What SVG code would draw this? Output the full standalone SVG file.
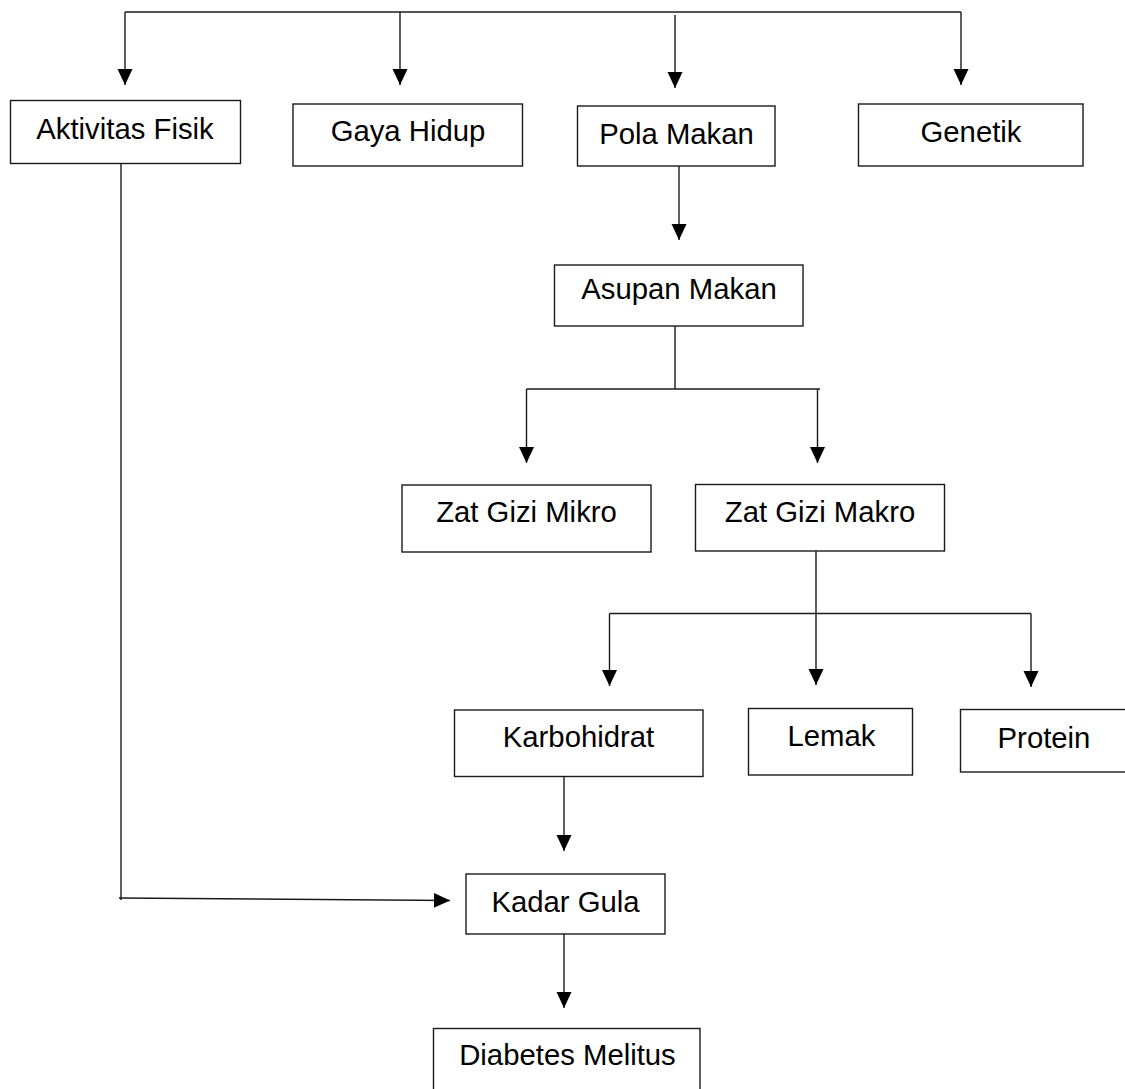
<svg xmlns="http://www.w3.org/2000/svg" width="1125" height="1089" viewBox="0 0 1125 1089">
<style>
  .box { fill: #ffffff; stroke: #1a1a1a; stroke-width: 1.4; }
  .lbl { font-family: "Liberation Sans", Arial, sans-serif; font-size: 29.3px; fill: #000000; text-anchor: middle; }
  .ln { fill: none; stroke: #1a1a1a; stroke-width: 1.4; }
  .arr { fill: none; stroke: #1a1a1a; stroke-width: 1.4; marker-end: url(#ah); }
</style>
<defs>
  <marker id="ah" markerUnits="userSpaceOnUse" markerWidth="17" markerHeight="16" viewBox="0 0 17 16" refX="16" refY="8" orient="auto">
    <path d="M0,0.5 L16,8 L0,15.5 z" fill="#000000"/>
  </marker>
</defs>
<rect width="1125" height="1089" fill="#ffffff"/>
<g id="connectors">
  <path class="ln" d="M125,12 H961"/>
  <path class="arr" d="M125,12 V85"/>
  <path class="arr" d="M400,12 V85"/>
  <path class="arr" d="M675,15 V88"/>
  <path class="arr" d="M961,12 V85"/>
  <path class="arr" d="M679,166 V240"/>
  <path class="ln" d="M675,326 V389"/>
  <path class="ln" d="M526.5,389 H820"/>
  <path class="arr" d="M526.5,389 V463"/>
  <path class="arr" d="M817.5,389 V463"/>
  <path class="arr" d="M816,551 V685"/>
  <path class="ln" d="M609.5,613.5 H1031"/>
  <path class="arr" d="M609.5,613.5 V686"/>
  <path class="arr" d="M1031,613.5 V687"/>
  <path class="arr" d="M564,776 V851"/>
  <path class="ln" d="M121,163 V900"/>
  <path class="arr" d="M119,898 L450,900.5"/>
  <path class="arr" d="M564,934 V1008"/>
</g>
<g id="node-aktivitas-fisik">
  <rect class="box" x="10.5" y="100.5" width="230" height="63"/>
  <text class="lbl" x="125" y="139">Aktivitas Fisik</text>
</g>
<g id="node-gaya-hidup">
  <rect class="box" x="293" y="104" width="229.5" height="62"/>
  <text class="lbl" x="408" y="141">Gaya Hidup</text>
</g>
<g id="node-pola-makan">
  <rect class="box" x="577.5" y="106" width="197.5" height="60"/>
  <text class="lbl" x="676.5" y="143.5">Pola Makan</text>
</g>
<g id="node-genetik">
  <rect class="box" x="858.5" y="104" width="224.5" height="62"/>
  <text class="lbl" x="971" y="142">Genetik</text>
</g>
<g id="node-asupan-makan">
  <rect class="box" x="554.5" y="265" width="248.5" height="61"/>
  <text class="lbl" x="679" y="298.5">Asupan Makan</text>
</g>
<g id="node-zat-gizi-mikro">
  <rect class="box" x="402" y="485" width="249" height="67"/>
  <text class="lbl" x="526.5" y="522">Zat Gizi Mikro</text>
</g>
<g id="node-zat-gizi-makro">
  <rect class="box" x="695.5" y="484.5" width="249" height="66.5"/>
  <text class="lbl" x="820" y="522">Zat Gizi Makro</text>
</g>
<g id="node-karbohidrat">
  <rect class="box" x="454.5" y="710" width="248.5" height="66.5"/>
  <text class="lbl" x="578.5" y="747">Karbohidrat</text>
</g>
<g id="node-lemak">
  <rect class="box" x="748.5" y="708.5" width="164" height="66.5"/>
  <text class="lbl" x="831.5" y="746">Lemak</text>
</g>
<g id="node-protein">
  <rect class="box" x="960.5" y="709.5" width="170" height="62.5"/>
  <text class="lbl" x="1044" y="748">Protein</text>
</g>
<g id="node-kadar-gula">
  <rect class="box" x="466" y="874" width="199" height="60"/>
  <text class="lbl" x="565.5" y="912">Kadar Gula</text>
</g>
<g id="node-diabetes-melitus">
  <rect class="box" x="433.5" y="1028.5" width="266.5" height="70"/>
  <text class="lbl" x="567.5" y="1065">Diabetes Melitus</text>
</g>
</svg>
